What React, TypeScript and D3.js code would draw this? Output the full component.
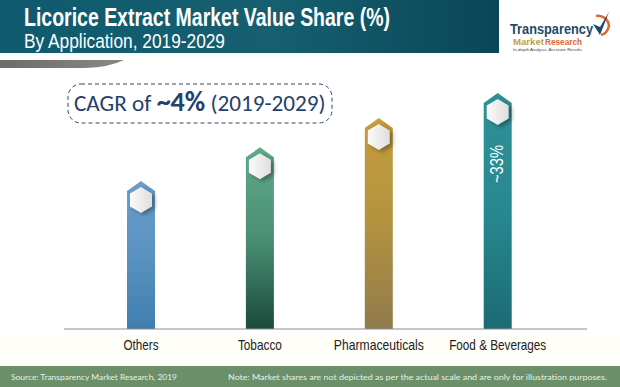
import React from "react";
import * as d3 from "d3";

const categories = ["Others", "Tobacco", "Pharmaceuticals", "Food & Beverages"];
const shares = [20.7, 25.4, 29.5, 33];
const topColors = ["#6c9ecb", "#62a98a", "#c69c3c", "#2f9198"];
const midColors = ["#5a92c0", "#4a8f74", "#b3933f", "#288890"];
const bottomColors = ["#3f7fae", "#1c4a3c", "#917b4c", "#1b6b73"];
const valueLabels = ["", "", "", "~33%"];
const labelWidths = [35, 44, 90, 97];

const W = 620, H = 387;
const x = d3.scalePoint<string>().domain(categories).range([141, 497.7]);
const y = d3.scaleLinear().domain([0, 33]).range([329, 93]);
const BW = 28;

const sans = "'Liberation Sans',sans-serif";
const body = "Lato,'Open Sans',sans-serif";

function barPath(cx: number, top: number) {
  const p = d3.path();
  const h = y(0);
  p.moveTo(cx - BW / 2, h);
  p.lineTo(cx - BW / 2, top + 10);
  p.lineTo(cx, top);
  p.lineTo(cx + BW / 2, top + 10);
  p.lineTo(cx + BW / 2, h);
  p.closePath();
  return p.toString();
}
function hexPath(cx: number, cy: number) {
  const r = 13, w = 11;
  return d3.line()([
    [cx, cy - r], [cx + w, cy - r / 2], [cx + w, cy + r / 2],
    [cx, cy + r], [cx - w, cy + r / 2], [cx - w, cy - r / 2],
  ]) + "Z";
}

export default function App() {
  return (
    <svg width={W} height={H} style={{ position: "absolute", left: 0, top: 0 }}>
      <defs>
        <linearGradient id="head" x1="0" x2="1" y1="0" y2="0">
          <stop offset="0" stopColor="#0f5a6e" />
          <stop offset="0.55" stopColor="#155f70" />
          <stop offset="1" stopColor="#0a4656" />
        </linearGradient>
        <linearGradient id="swoosh" x1="0" x2="1" y1="0" y2="0">
          <stop offset="0" stopColor="#6f6c68" />
          <stop offset="1" stopColor="#8b8883" />
        </linearGradient>
        <linearGradient id="hexFill" x1="0" x2="1" y1="0" y2="0">
          <stop offset="0" stopColor="#fbfbfb" />
          <stop offset="1" stopColor="#dedede" />
        </linearGradient>
        <filter id="shadow" x="-50%" y="-50%" width="200%" height="200%">
          <feGaussianBlur stdDeviation="2" />
        </filter>
        {categories.map((c, i) => (
          <linearGradient key={c} id={`bar${i}`} x1="0" x2="0" y1="0" y2="1">
            <stop offset="0" stopColor={topColors[i]} />
            <stop offset="0.5" stopColor={midColors[i]} />
            <stop offset="1" stopColor={bottomColors[i]} />
          </linearGradient>
        ))}
      </defs>

      <rect width={W} height={H} fill="#ffffff" />
      <rect y={335} width={W} height={31} fill="#fffef9" />
      <rect width={499} height={53} fill="url(#head)" />
      <path d="M0 60H124Q110 67 85 68H0Z" fill="url(#swoosh)" />

      <text x={24} y={26} fontFamily={sans} fontWeight={700} fontSize={25} fill="#fff" textLength={366} lengthAdjust="spacingAndGlyphs">Licorice Extract Market Value Share (%)</text>
      <text x={24} y={48} fontFamily={sans} fontSize={20} fill="#fff" textLength={201} lengthAdjust="spacingAndGlyphs">By Application, 2019-2029</text>

      <g>
        <path d="M596 16A11 11 0 0 1 609 26Q607 34 601 35" fill="none" stroke="#dd6a2a" strokeWidth={2.6} />
        <path d="M593 24L600 35L609 12L600 27Z" fill="#1c4a68" />
        <text x={510} y={34} fontFamily={sans} fontWeight={700} fontSize={15} fill="#1c4a68" textLength={83} lengthAdjust="spacingAndGlyphs">Transparency</text>
        <text x={513} y={44.5} fontFamily={sans} fontWeight={700} fontSize={9.5} fill="#c0a14a" textLength={31} lengthAdjust="spacingAndGlyphs">Market</text>
        <text x={545} y={44.5} fontFamily={sans} fontWeight={700} fontSize={9.5} fill="#dd6a2a" textLength={37} lengthAdjust="spacingAndGlyphs">Research</text>
        <text x={513} y={51} fontFamily={sans} fontSize={4.4} fill="#444" textLength={70} lengthAdjust="spacingAndGlyphs">In-depth Analysis. Accurate Results.</text>
      </g>

      <rect x={68} y={84} width={264} height={39} rx={13} fill="none" stroke="#2c4a6b" strokeWidth={1} strokeDasharray="4 3" />
      <text x={74} y={111} fontFamily={"Carlito,Lato,sans-serif"} fill="#24406b" fontSize={23.2}>
        CAGR of <tspan fontWeight={700} fontSize={28}>~4%</tspan> (2019-2029)
      </text>

      {categories.map((c, i) => {
        const cx = x(c)!;
        const top = y(shares[i]);
        return (
          <g key={c}>
            <path d={barPath(cx, top)} fill={`url(#bar${i})`} />
            <path d={hexPath(cx + 3, top + 21)} fill="#000" opacity={0.35} filter="url(#shadow)" />
            <path d={hexPath(cx, top + 19)} fill="url(#hexFill)" />
            {valueLabels[i] && (
              <text transform={`translate(${cx + 5.5},${top + 90}) rotate(-90)`} fontFamily={sans} fontSize={18} fill="#fff" textLength={38} lengthAdjust="spacingAndGlyphs">{valueLabels[i]}</text>
            )}
          </g>
        );
      })}

      <line x1={64} x2={587} y1={329} y2={329} stroke="#8e8e8e" strokeWidth={1.2} />

      {categories.map((c, i) => (
        <text key={c} x={x(c)! - labelWidths[i] / 2} y={350} fontFamily={sans} fontSize={14.5} fill="#222" textLength={labelWidths[i]} lengthAdjust="spacingAndGlyphs">{c}</text>
      ))}

      <rect y={366} width={W} height={21} fill="#6a8f69" />
      <text x={11} y={380} fontFamily={body} fontSize={8.4} fill="#e8efe4" textLength={166} lengthAdjust="spacingAndGlyphs">Source: Transparency Market Research, 2019</text>
      <text x={228} y={380} fontFamily={body} fontSize={8.4} fill="#e8efe4" textLength={379} lengthAdjust="spacingAndGlyphs">Note: Market shares are not depicted as per the actual scale and are only for illustration purposes.</text>
    </svg>
  );
}
